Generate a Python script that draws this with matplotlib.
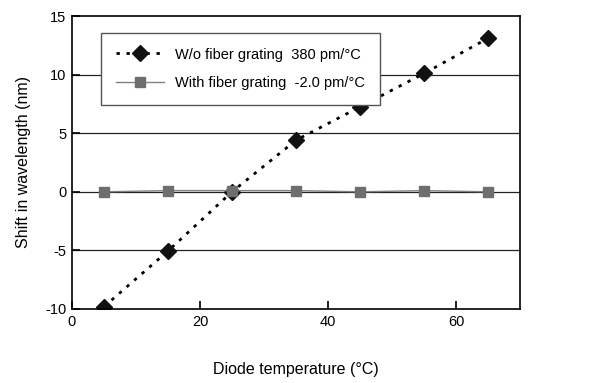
import matplotlib
matplotlib.use("Agg")
import matplotlib.pyplot as plt

plt.rcParams['font.family'] = ['Liberation Sans', 'DejaVu Sans']
plt.rcParams['axes.unicode_minus'] = False

# diode temperature (C)
temps = [5, 15, 25, 35, 45, 55, 65]
# wavelength shift (nm)
shift_without = [-9.8, -5.05, 0.0, 4.4, 7.25, 10.1, 13.1]
shift_with = [0.0, 0.1, 0.1, 0.1, 0.0, 0.1, 0.0]

label_without = 'W/o fiber grating  380 pm/\u00b0C'
label_with = 'With fiber grating  -2.0 pm/\u00b0C'

fig = plt.figure(figsize=(6.14, 3.83), dpi=100)
ax = fig.add_axes([72 / 614, 1 - 309 / 383, 448 / 614, 293 / 383])

for y in [-5, 0, 5, 10]:
    ax.axhline(y, color='#222222', lw=0.9, zorder=1)

ax.plot(temps, shift_with, color='#808080', lw=1.0, marker='s', ms=6.5,
        mfc='#6e6e6e', mec='#6e6e6e', label=label_with, zorder=3)
ax.plot(temps, shift_without, color='black', lw=2.0, ls=(0, (1.2, 2.4)),
        marker='D', ms=8, mfc='#111111', mec='#111111', label=label_without, zorder=2)

ax.set_xlim(0, 70)
ax.set_ylim(-10, 15)
ax.set_xticks([0, 20, 40, 60])
ax.set_yticks([-10, -5, 0, 5, 10, 15])
ax.tick_params(direction='in', length=6, width=1.2, labelsize=10.5, pad=4)
for s in ax.spines.values():
    s.set_linewidth(1.2)

ax.set_xlabel('Diode temperature (\u00b0C)', fontsize=11.5, labelpad=24)
ax.set_ylabel('Shift in wavelength (nm)', fontsize=11.5, labelpad=10)

handles, labels = ax.get_legend_handles_labels()
leg = ax.legend(handles[::-1], labels[::-1], loc='upper left',
                bbox_to_anchor=(101 / 614, 1 - 33 / 383), bbox_transform=fig.transFigure,
                borderaxespad=0, fontsize=10.5, frameon=True, fancybox=False, framealpha=1,
                edgecolor='#555555', handlelength=3.3, handletextpad=0.8,
                borderpad=1.0, labelspacing=1.0)
leg.get_frame().set_linewidth(1.0)

fig.savefig('out.png', dpi=100)
